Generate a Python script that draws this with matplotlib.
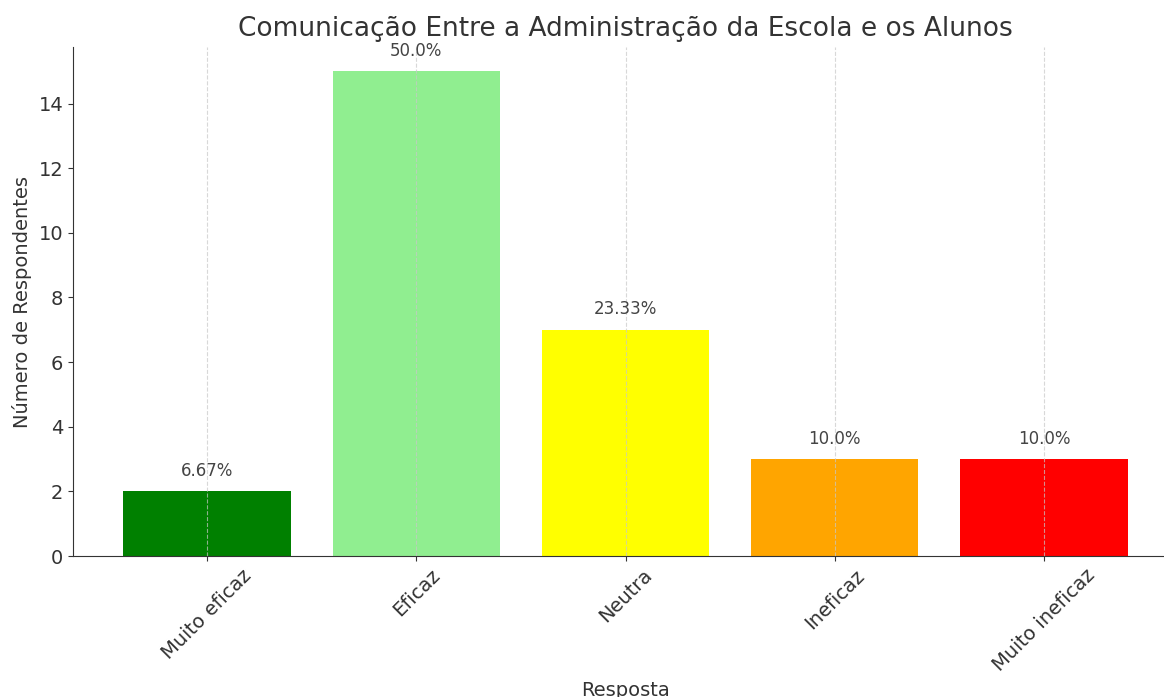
import numpy as np
import matplotlib
matplotlib.use("Agg")
import matplotlib.pyplot as plt

# dados
respostas = ["Muito eficaz", "Eficaz", "Neutra", "Ineficaz", "Muito ineficaz"]
contagens = [2, 15, 7, 3, 3]
percentuais = [6.67, 50.0, 23.33, 10.0, 10.0]
cores = ["green", "lightgreen", "yellow", "orange", "red"]

plt.rcParams['text.color'] = '#333333'
plt.rcParams['axes.labelcolor'] = '#333333'
plt.rcParams['xtick.color'] = '#333333'
plt.rcParams['ytick.color'] = '#333333'

fig = plt.figure(figsize=(11.64, 6.97), dpi=100)
# o eixo passa um pouco da borda direita (imagem original recortada)
ax = fig.add_axes([73/1164, 141/697, 1105/1164, 509/697])

x = np.arange(len(respostas))
barras = ax.bar(x, contagens, color=cores, width=0.8)

for b, p in zip(barras, percentuais):
    ax.text(b.get_x() + b.get_width()/2, b.get_height() + 0.35, str(p) + "%",
            ha="center", va="bottom", fontsize=12, color="#444444")

ax.set_xticks(x)
ax.set_xticklabels(respostas, rotation=45, fontsize=14)
ax.tick_params(axis="y", labelsize=14)
ax.set_ylim(0, 15.75)

ax.set_title("Comunicação Entre a Administração da Escola e os Alunos", fontsize=19, pad=8)
ax.set_xlabel("Resposta", fontsize=14, labelpad=4)
ax.set_ylabel("Número de Respondentes", fontsize=14, labelpad=5)

ax.grid(axis="x", linestyle="--", color="#c8c8c8", linewidth=0.8, alpha=0.7)
ax.set_axisbelow(False)
ax.spines["top"].set_visible(False)
ax.spines["right"].set_visible(False)
ax.spines["left"].set_color("#333333")
ax.spines["bottom"].set_color("#333333")

fig.savefig("out.png", dpi=100)
